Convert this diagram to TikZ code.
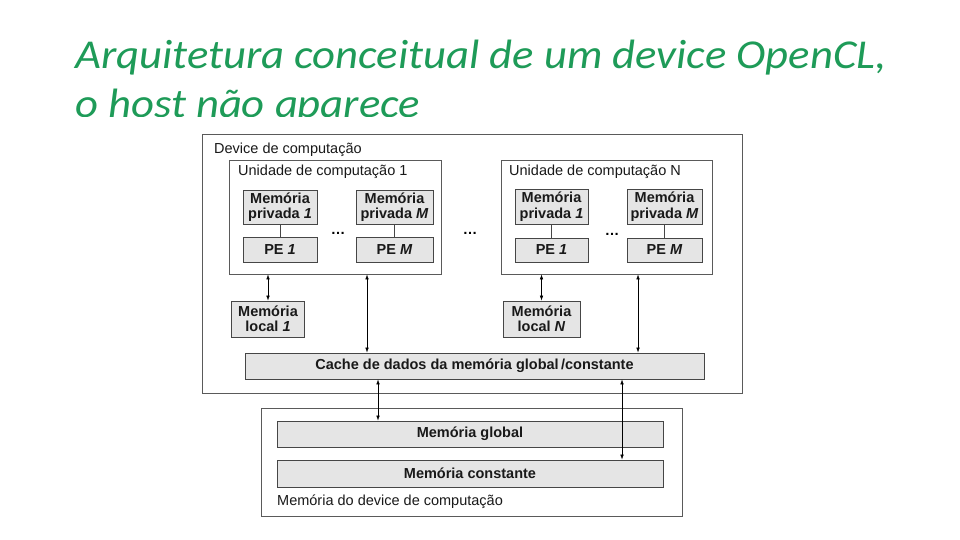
\documentclass[tikz,border=0pt]{standalone}
\usepackage{fontspec}
\setmainfont{Liberation Sans}
\newfontfamily\titlefont{Carlito}
\usetikzlibrary{arrows.meta,calc}
\definecolor{titlegreen}{RGB}{30,155,88}
\definecolor{boxfill}{RGB}{229,229,229}
\definecolor{boxline}{RGB}{70,70,70}
\definecolor{frameline}{RGB}{90,90,90}
\begin{document}
\begin{tikzpicture}[x=1pt,y=-1pt,
  frame/.style={draw=frameline,line width=0.8pt,fill=white},
  gbox/.style={draw=boxline,line width=0.8pt,fill=boxfill,inner sep=0pt,align=center,
    font=\fontsize{14.5}{15.5}\selectfont\bfseries,text=black!90},
  lbl/.style={anchor=west,inner sep=0pt,font=\fontsize{14.5}{15.5}\selectfont,text=black!90},
  dots/.style={inner sep=0pt,font=\fontsize{14.5}{15.5}\selectfont\bfseries},
  arr/.style={{Latex[length=5pt,width=3.6pt]}-{Latex[length=5pt,width=3.6pt]},line width=0.6pt,black},
  ttl/.style={anchor=base west,inner sep=0pt,text=titlegreen,font=\titlefont\itshape\fontsize{41}{46}\selectfont}
]
\fill[white] (0,0) rectangle (960,540);
\useasboundingbox (0,0) rectangle (960,540);

% title (clipped at its bottom as in the reference)
\begin{scope}
\clip (0,0) rectangle (960,117);
\node[ttl] (t1) at (75,69) {\scalebox{1.09}[1]{Arquitetura conceitual de um device OpenCL,}};
\node[ttl] (t2) at (75,118) {\scalebox{1.09}[1]{o host não aparece}};
\end{scope}

% device box
\draw[frame] (202,134) rectangle (742,393);
\node[lbl] (devlbl) at (214,150) {Device de computação};

% compute units
\node[frame,minimum width=212pt,minimum height=114pt,inner sep=0pt] (unit1) at (335,217) {};
\node[lbl] (u1lbl) at (238,172) {Unidade de computação 1};
\node[frame,minimum width=211pt,minimum height=114pt,inner sep=0pt] (unitN) at (606.5,217) {};
\node[lbl] (uNlbl) at (509,172) {Unidade de computação N};

% unit 1 contents
\node[gbox,minimum width=74pt,minimum height=34pt] (mp11) at (280,207) {Memória\\privada \textit{1}};
\node[gbox,minimum width=74pt,minimum height=25pt] (pe11) at (280,249.5) {PE \textit{1}};
\node[gbox,minimum width=77pt,minimum height=34pt] (mpM1) at (394.5,207) {Memória\\privada \textit{M}};
\node[gbox,minimum width=77pt,minimum height=25pt] (peM1) at (394.5,249.5) {PE \textit{M}};
\draw[line width=0.6pt,boxline] (mp11) -- (pe11);
\draw[line width=1.5pt,boxline] (mpM1) -- (peM1);
\node[dots] (d1) at (338,233) {\dots};

\node[dots] (d2) at (470,233) {\dots};

% unit N contents
\node[gbox,minimum width=73pt,minimum height=35pt] (mp1N) at (551.5,206.5) {Memória\\privada \textit{1}};
\node[gbox,minimum width=73pt,minimum height=24pt] (pe1N) at (551.5,250) {PE \textit{1}};
\node[gbox,minimum width=75pt,minimum height=35pt] (mpMN) at (664.5,206.5) {Memória\\privada \textit{M}};
\node[gbox,minimum width=75pt,minimum height=24pt] (peMN) at (664.5,250) {PE \textit{M}};
\draw[line width=0.6pt,boxline] (mp1N) -- (pe1N);
\draw[line width=1pt,boxline] (mpMN) -- (peMN);
\node[dots] (d3) at (612,234) {\dots};

% local memories
\node[gbox,minimum width=73pt,minimum height=36pt] (local1) at (268,319) {Memória\\local \textit{1}};
\node[gbox,minimum width=77pt,minimum height=36pt] (localN) at (541.5,319) {Memória\\local \textit{N}};

% cache
\node[gbox,minimum width=459pt,minimum height=26pt] (cache) at (474.5,366) {Cache de dados da memória global\,/constante};

% global memory box
\draw[frame] (261,408) rectangle (682,516);
\node[gbox,minimum width=386pt,minimum height=26pt] (global) at (470,434) {Memória global};
\node[gbox,minimum width=386pt,minimum height=27pt] (const) at (470,473.5) {Memória constante};
\node[lbl] (memlbl) at (277,502) {Memória do device de computação};

% connector x positions
\coordinate (xa) at (367,0);
\coordinate (xb) at (638,0);
\coordinate (xc) at (378,0);
\coordinate (xd) at (622,0);

% arrows
\draw[arr] (unit1.south -| local1.north) -- (local1.north);
\draw[arr] (unit1.south -| xa) -- (cache.north -| xa);
\draw[arr] (unitN.south -| localN.north) -- (localN.north);
\draw[arr] (unitN.south -| xb) -- (cache.north -| xb);
\draw[arr] (cache.south -| xc) -- (global.north -| xc);
\draw[arr] (cache.south -| xd) -- (const.north -| xd);
\end{tikzpicture}
\end{document}
